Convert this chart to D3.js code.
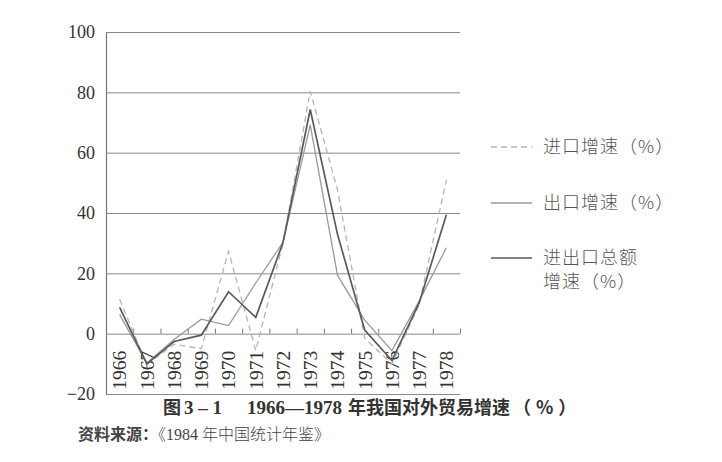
<!DOCTYPE html>
<html>
<head>
<meta charset="utf-8">
<script src="https://cdn.jsdelivr.net/npm/d3@7"></script>
<style>
  body { margin: 0; background: #fff; }
  svg { display: block; }
  .serif { font-family: "Liberation Serif", "DejaVu Serif", serif; }
  .cjk { font-family: "Noto Sans CJK SC", sans-serif; }
</style>
</head>
<body>
<svg id="chart"></svg>
<script>
// Data
const years = ["1966", "1967", "1968", "1969", "1970", "1971", "1972",
               "1973", "1974", "1975", "1976", "1977", "1978"];
const importGrowth = [11.4, -10.2, -3.5, -5.0, 27.3, -5.6, 30.0, 80.4, 47.7, -1.5, -10.0, 9.6, 51.0];
const exportGrowth = [6.3, -9.7, -1.9, 4.8, 2.7, 16.8, 30.3, 69.2, 19.4, 4.5, -5.6, 10.8, 28.5];
const totalGrowth = [8.7, -10.0, -2.6, -0.5, 13.9, 5.4, 30.2, 74.3, 33.0, 1.2, -8.9, 10.2, 39.4];
const yTicks = [-20, 0, 20, 40, 60, 80, 100];

const legendItems = [
  { label: ["进口增速（%）"], color: "#b5b5b5", width: 1.3, dash: "6,4" },
  { label: ["出口增速（%）"], color: "#999", width: 1.3, dash: null },
  { label: ["进出口总额", "增速（%）"], color: "#5a5a5a", width: 1.7, dash: null }
];

const width = 722;
const height = 462;
const margin = { top: 32, right: 262, bottom: 68, left: 106 };

const svg = d3.select("#chart").attr("width", width).attr("height", height);

// X scale (bands, points at centres)
const x = d3.scaleBand()
  .domain(years)
  .range([margin.left, width - margin.right]);
const cx = d => x(d) + x.bandwidth() / 2;

// Y scale
const y = d3.scaleLinear()
  .domain([-20, 100])
  .range([height - margin.bottom, margin.top]);

// Y axis with grid lines
const yAxis = svg.append("g")
  .attr("transform", `translate(${margin.left},0)`)
  .call(d3.axisLeft(y)
    .tickValues(yTicks)
    .tickSizeInner(-(width - margin.right - margin.left))
    .tickSizeOuter(0)
    .tickPadding(11)
    .tickFormat(d => d < 0 ? "\u2212" + Math.abs(d) : d));
yAxis.attr("font-family", null).attr("font-size", null);
yAxis.select(".domain").attr("stroke", "#777").attr("stroke-width", 1.2);
yAxis.selectAll(".tick line").attr("stroke", "#888").attr("stroke-width", 1);
yAxis.selectAll(".tick text")
  .attr("class", "serif")
  .attr("fill", "#333")
  .attr("font-size", 18);

// Small ticks between years on the zero line
const xb = d3.scaleLinear().domain([0, years.length]).range(x.range());
const bTicks = svg.append("g")
  .attr("transform", `translate(0,${y(0)})`)
  .call(d3.axisTop(xb).tickValues(d3.range(1, years.length + 1)).tickSize(5).tickFormat(""));
bTicks.select(".domain").remove();
bTicks.selectAll("line").attr("stroke", "#777");

// Year labels, rotated
const xAxis = svg.append("g")
  .attr("transform", `translate(0,${y(0)})`)
  .call(d3.axisBottom(x).tickSize(0));
xAxis.attr("font-family", null).attr("font-size", null);
xAxis.select(".domain").remove();
xAxis.selectAll(".tick text")
  .attr("class", "serif")
  .attr("transform", "rotate(-90)")
  .attr("x", -17)
  .attr("y", 0)
  .attr("dy", "0.35em")
  .style("text-anchor", "end")
  .attr("fill", "#333")
  .attr("font-size", 19.5);

// Lines
const line = d3.line()
  .x((d, i) => cx(years[i]))
  .y(d => y(d));

const seriesList = [importGrowth, exportGrowth, totalGrowth];
seriesList.forEach((values, i) => {
  const s = legendItems[i];
  svg.append("path")
    .datum(values)
    .attr("fill", "none")
    .attr("stroke", s.color)
    .attr("stroke-width", s.width)
    .attr("stroke-dasharray", s.dash)
    .attr("d", line);
});

// Legend
const legendY = [147, 203, 258];
legendItems.forEach((s, i) => {
  const g = svg.append("g").attr("transform", `translate(491,${legendY[i]})`);
  g.append("line")
    .attr("x1", 0).attr("x2", 41)
    .attr("stroke", s.color)
    .attr("stroke-width", s.width)
    .attr("stroke-dasharray", s.dash);
  s.label.forEach((t, j) => {
    g.append("text")
      .attr("class", "cjk")
      .attr("x", 52)
      .attr("y", j * 24)
      .attr("dy", "0.35em")
      .attr("fill", "#555")
      .attr("font-weight", 300)
      .attr("font-size", 18)
      .attr("letter-spacing", 1)
      .text(t);
  });
});

// Caption
const caption = svg.append("text")
  .attr("x", 163)
  .attr("y", 408)
  .attr("dy", "0.35em")
  .attr("fill", "#333")
  .attr("font-weight", "bold");
caption.append("tspan").attr("class", "cjk").attr("font-size", 18).text("图");
caption.append("tspan").attr("class", "serif").attr("font-size", 19).attr("dx", 3).text("3 – 1");
caption.append("tspan").attr("class", "serif").attr("font-size", 19).attr("dx", 26).text("1966—1978");
caption.append("tspan").attr("class", "cjk").attr("font-size", 18).attr("dx", 6).text("年我国对外贸易增速");
caption.append("tspan").attr("class", "cjk").attr("font-size", 18).attr("dx", 3).attr("letter-spacing", 5).text("（%）");

// Source note
const source = svg.append("text")
  .attr("x", 78)
  .attr("y", 434)
  .attr("dy", "0.35em")
  .attr("fill", "#444")
  .attr("font-size", 16);
source.append("tspan").attr("class", "cjk").attr("font-weight", "bold").text("资料来源：");
source.append("tspan").attr("class", "cjk").attr("font-weight", 300).text("《");
source.append("tspan").attr("class", "serif").text("1984 ");
source.append("tspan").attr("class", "cjk").attr("font-weight", 300).text("年中国统计年鉴》");
</script>
</body>
</html>
